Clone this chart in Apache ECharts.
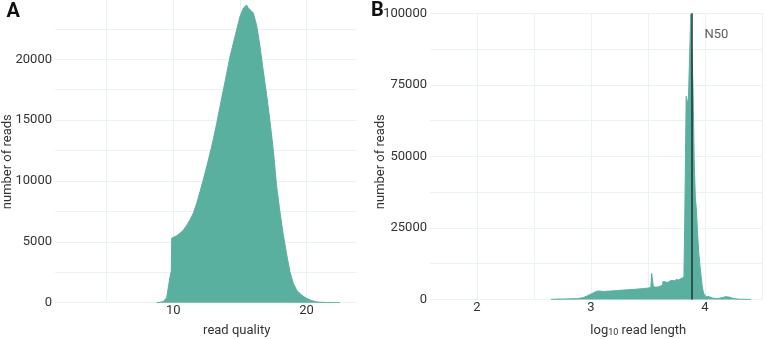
<!DOCTYPE html>
<html><head><meta charset="utf-8">
<script src="https://cdn.jsdelivr.net/npm/echarts@6/dist/echarts.min.js"></script>
<style>html,body{margin:0;padding:0;background:#fff}#c{width:765px;height:339px}</style>
</head><body><div id="c"></div>
<script>
// Panel A: read quality histogram (bin positions, counts)
const qualityBins = [8.75,9.0,9.25,9.5,9.75,9.85,9.88,10.0,10.25,10.5,10.75,11.0,11.25,11.5,11.75,12.0,12.25,12.5,12.75,13.0,13.25,13.5,13.75,14.0,14.25,14.5,14.75,15.0,15.25,15.4,15.5,15.6,15.75,16.0,16.25,16.5,16.75,17.0,17.25,17.5,17.75,18.0,18.25,18.5,18.75,19.0,19.25,19.5,19.75,20.0,20.25,20.5,20.75,21.0,21.25,21.5,21.75,22.0,22.25,22.5];
const qualityCounts = [0,30,100,400,2100,2600,5300,5380,5500,5700,5950,6350,6800,7350,8150,9100,10100,11150,12250,13400,14700,16100,17450,18800,20200,21300,22400,23500,24200,24300,24450,24250,24300,23800,22800,21100,19050,17100,14950,12560,9600,7480,5600,4000,2550,1600,1040,750,520,360,230,140,70,40,25,15,10,6,4,0];
// Panel B: log10 read length histogram
const lengthBins = [2.65,2.70,2.75,2.80,2.85,2.90,2.93,2.96,2.99,3.02,3.05,3.08,3.11,3.14,3.17,3.20,3.23,3.26,3.29,3.32,3.35,3.38,3.41,3.44,3.47,3.50,3.525,3.54,3.555,3.58,3.60,3.62,3.64,3.66,3.68,3.70,3.72,3.74,3.76,3.78,3.80,3.815,3.83,3.84,3.85,3.86,3.87,3.88,3.89,3.90,3.91,3.92,3.93,3.94,3.95,3.96,3.97,3.98,3.99,4.00,4.02,4.05,4.08,4.11,4.14,4.17,4.20,4.23,4.26,4.30,4.35,4.40];
const lengthCounts = [60,150,180,220,300,420,650,1100,1700,2300,2900,2950,2800,2900,2950,3050,3100,3250,3300,3400,3500,3550,3650,3750,3850,4000,4150,9100,4350,4400,4700,5200,6200,5900,6400,6700,6500,7000,6800,7300,7000,7800,28000,71000,68500,70500,85000,99600,86000,74000,49000,36000,31000,23000,16500,12000,8500,4800,2600,1700,1000,500,350,400,700,1000,800,400,200,100,50,20];
const n50Log10 = 3.883;
const n50Label = [4.1, 92500];

// ticks
const qualityGridTicks = [5,10,15,20];
const qualityLabelTicks = [10,20];
const qualityCountGrid = [0,2500,5000,7500,10000,12500,15000,17500,20000,22500];
const qualityCountLabels = [0,5000,10000,15000,20000];
const lengthGridTicks = [2,2.5,3,3.5,4,4.5];
const lengthLabelTicks = [2,3,4];
const lengthCountGrid = [0,12500,25000,37500,50000,62500,75000,87500,100000];
const lengthCountLabels = [0,25000,50000,75000,100000];

const FILL = '#5ab09f';
const GRID = '#e8f3f2';
const TXT = '#333333';
const FONT = 'Roboto';

const zip = (a, b) => a.map((v, i) => [v, b[i]]);
const plain = v => String(v);

const chart = echarts.init(document.getElementById('c'), null, {renderer: 'canvas'});

function xAx(grid, min, max, gridTicks, labels) {
  return {
    type: 'value', gridIndex: grid, min: min, max: max,
    axisLine: {show: false},
    axisTick: {show: false, customValues: gridTicks},
    axisLabel: {customValues: labels, formatter: plain, fontSize: 13, fontFamily: FONT, color: TXT, margin: 2},
    splitLine: {show: true, lineStyle: {color: GRID, width: 1}}
  };
}
function yAx(grid, min, max, gridTicks, labels) {
  return {
    type: 'value', gridIndex: grid, min: min, max: max,
    axisLine: {show: false},
    axisTick: {show: false, customValues: gridTicks},
    axisLabel: {customValues: labels, formatter: plain, fontSize: 13, fontFamily: FONT, color: TXT, margin: 3, padding: [0, 0, 4, 0]},
    splitLine: {show: true, lineStyle: {color: GRID, width: 1}}
  };
}

const option = {
  animation: false,
  backgroundColor: '#fff',
  grid: [
    {left: 55, top: 0, width: 301.7, height: 302.7},
    {left: 430, top: 13.3, width: 332, height: 286.2}
  ],
  xAxis: [
    xAx(0, 1.125, 23.76, qualityGridTicks, qualityLabelTicks),
    xAx(1, 1.588, 4.5, lengthGridTicks, lengthLabelTicks)
  ],
  yAxis: [
    yAx(0, 0, 24870, qualityCountGrid, qualityCountLabels),
    yAx(1, 0, 100000, lengthCountGrid, lengthCountLabels)
  ],
  series: [
    {
      type: 'line', xAxisIndex: 0, yAxisIndex: 0, data: zip(qualityBins, qualityCounts),
      symbol: 'none', silent: true,
      lineStyle: {color: FILL, width: 1}, areaStyle: {color: FILL, opacity: 1}
    },
    {
      type: 'line', xAxisIndex: 1, yAxisIndex: 1, data: zip(lengthBins, lengthCounts),
      step: 'middle', symbol: 'none', silent: true,
      lineStyle: {color: FILL, width: 1}, areaStyle: {color: FILL, opacity: 1},
      markLine: {
        silent: true, symbol: ['none', 'none'], label: {show: false},
        lineStyle: {color: '#25332f', width: 1.5, type: 'solid'},
        data: [{xAxis: n50Log10}]
      }
    },
    {
      type: 'scatter', xAxisIndex: 1, yAxisIndex: 1, data: [n50Label],
      symbolSize: 0, silent: true,
      label: {show: true, position: 'inside', formatter: 'N50', fontSize: 13, fontFamily: FONT, color: TXT}
    }
  ],
  graphic: [
    {type: 'text', x: 13.3, y: 11.7, style: {text: 'A', font: 'bold 20px Roboto', fill: '#111', align: 'center', verticalAlign: 'middle', textAlign: 'center', textVerticalAlign: 'middle'}},
    {type: 'text', x: 377.5, y: 10.8, style: {text: 'B', font: 'bold 20px Roboto', fill: '#111', align: 'center', verticalAlign: 'middle', textAlign: 'center', textVerticalAlign: 'middle'}},
    {type: 'text', x: 7.3, y: 161.7, rotation: Math.PI / 2, style: {text: 'number of reads', font: '13px Roboto', fill: TXT, align: 'center', verticalAlign: 'middle', textAlign: 'center', textVerticalAlign: 'middle'}},
    {type: 'text', x: 380.6, y: 161.7, rotation: Math.PI / 2, style: {text: 'number of reads', font: '13px Roboto', fill: TXT, align: 'center', verticalAlign: 'middle', textAlign: 'center', textVerticalAlign: 'middle'}},
    {type: 'text', x: 236.7, y: 330.6, style: {text: 'read quality', font: '13px Roboto', fill: TXT, align: 'center', verticalAlign: 'middle', textAlign: 'center', textVerticalAlign: 'middle'}},
    {type: 'text', x: 638.3, y: 330.6, style: {
      text: '{a|log}{s|10}{a| read length}', align: 'center', verticalAlign: 'middle', textAlign: 'center', textVerticalAlign: 'middle',
      rich: {a: {fontSize: 13, fontFamily: FONT, fill: TXT, color: TXT}, s: {fontSize: 9, fontFamily: FONT, fill: TXT, color: TXT, padding: [5, 0, 0, 0]}}
    }}
  ]
};
chart.setOption(option);
</script>
</body></html>
